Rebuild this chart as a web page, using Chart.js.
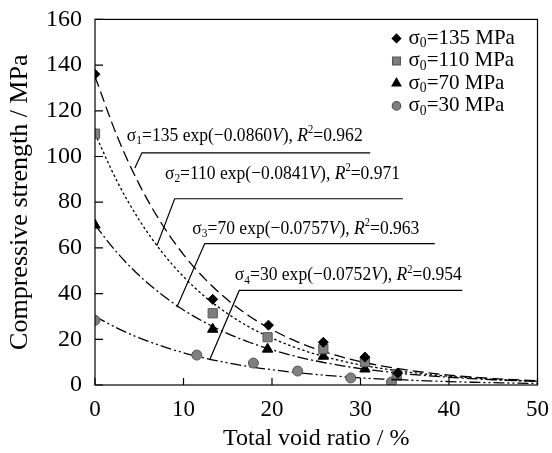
<!DOCTYPE html>
<html lang="en">

<head>
    <meta charset="UTF-8">
    <title>Compressive strength vs total void ratio</title>
    <script src="https://cdn.jsdelivr.net/npm/chart.js"></script>
    <style>
        html, body {
            margin: 0;
            padding: 0;
            background-color: #ffffff;
        }

        .chart-container {
            width: 552px;
            height: 453px;
        }
    </style>
</head>

<body>

    <div class="chart-container">
        <canvas id="strengthChart" width="552" height="453"></canvas>
    </div>

    <script>
        // measured points: total void ratio (%) and compressive strength (MPa)
        const voidRatio135 = [0, 13.3, 19.6, 25.8, 30.5, 34.2];
        const strength135 = [136, 37.5, 26.2, 18.7, 12.2, 5.2];
        const voidRatio110 = [0, 13.3, 19.5, 25.8, 30.5, 34.1];
        const strength110 = [110, 31.4, 20.9, 15.7, 10.0, 4.8];
        const voidRatio70 = [0, 13.3, 19.5, 25.8, 30.5, 34.1];
        const strength70 = [70, 24.4, 15.7, 12.6, 7.0, 3.5];
        const voidRatio30 = [0, 11.5, 17.9, 22.9, 28.9, 33.5];
        const strength30 = [28.3, 13.1, 9.6, 6.1, 3.1, 1.3];

        // fitted curves
        const curveVoid = [0, 2.5, 5, 7.5, 10, 12.5, 15, 17.5, 20, 22.5, 25, 27.5, 30, 32.5, 35, 37.5, 40, 42.5, 45, 47.5, 50];
        const fit135 = [135, 108.9, 87.8, 70.8, 57.1, 46.1, 37.2, 30.0, 24.2, 19.5, 15.7, 12.7, 10.2, 8.3, 6.7, 5.4, 4.3, 3.5, 2.8, 2.3, 1.8];
        const fit110 = [110, 89.1, 72.2, 58.5, 47.4, 38.4, 31.2, 25.2, 20.5, 16.6, 13.4, 10.9, 8.8, 7.2, 5.8, 4.7, 3.8, 3.1, 2.5, 2.0, 1.6];
        const fit70 = [70, 57.9, 47.9, 39.7, 32.8, 27.2, 22.5, 18.6, 15.4, 12.7, 10.5, 8.7, 7.2, 6.0, 4.9, 4.1, 3.4, 2.8, 2.3, 1.9, 1.6];
        const fit30 = [30, 24.9, 20.6, 17.1, 14.1, 11.7, 9.7, 8.0, 6.7, 5.5, 4.6, 3.8, 3.1, 2.6, 2.2, 1.8, 1.5, 1.2, 1.0, 0.8, 0.7];

        const legendLabels = ['135', '110', '70', '30'];
        const xTicks = [0, 10, 20, 30, 40, 50];
        const yTicks = [0, 20, 40, 60, 80, 100, 120, 140, 160];

        const FONT = "'Liberation Serif', 'Times New Roman', serif";

        function toPoints(xs, ys) {
            return xs.map((x, i) => ({ x: x, y: ys[i] }));
        }

        // equation labels: text anchor, bracket line and leader end in data units
        const annotations = [
            { idx: '1', a: '135', b: '0.0860', r2: '0.962', text: [3.6, 109], line: [5.3, 31.1, 101.6], lead: [4.5, 95] },
            { idx: '2', a: '110', b: '0.0841', r2: '0.971', text: [7.9, 92.4], line: [9.0, 34.8, 81.5], lead: [7.0, 61] },
            { idx: '3', a: '70', b: '0.0757', r2: '0.963', text: [11.0, 68.4], line: [12.4, 38.4, 61.9], lead: [9.25, 34] },
            { idx: '4', a: '30', b: '0.0752', r2: '0.954', text: [15.8, 48], line: [16.3, 41.5, 41.4], lead: [12.95, 10.9] }
        ];

        // draw a line of text made of parts (normal, italic, sub, sup)
        // squeeze < 1 narrows the glyphs like the condensed type in the figure
        function drawRich(ctx, x, y, parts, size, squeeze) {
            squeeze = squeeze || 1;
            ctx.save();
            ctx.translate(x, y);
            ctx.scale(squeeze, 1);
            ctx.textBaseline = 'middle';
            ctx.textAlign = 'left';
            let cx = 0;
            parts.forEach(p => {
                let s = size, dy = 0;
                if (p.sub) { s = size * 0.65; dy = size * 0.25; }
                if (p.sup) { s = size * 0.6; dy = -size * 0.3; }
                ctx.font = (p.italic ? 'italic ' : '') + s + 'px ' + FONT;
                ctx.fillText(p.t, cx, dy);
                cx += ctx.measureText(p.t).width;
            });
            ctx.restore();
        }

        const pointSeries = [
            { label: '135', style: 'rectRot', radius: 5, color: '#000000' },
            { label: '110', style: 'rect', radius: 6.5, color: '#7f7f7f' },
            { label: '70', style: 'triangle', radius: 6, color: '#000000' },
            { label: '30', style: 'circle', radius: 5, color: '#808080' }
        ];

        // frame, inward ticks, legend and equation labels
        const decorPlugin = {
            id: 'decor',
            afterDatasetsDraw(chart) {
                const ctx = chart.ctx;
                const area = chart.chartArea;
                const xs = chart.scales.x, ys = chart.scales.y;
                ctx.save();
                ctx.strokeStyle = '#000';
                ctx.lineWidth = 1.2;
                ctx.strokeRect(area.left, area.top, area.right - area.left, area.bottom - area.top);

                ctx.beginPath();
                xTicks.forEach(v => {
                    const px = xs.getPixelForValue(v);
                    ctx.moveTo(px, area.bottom);
                    ctx.lineTo(px, area.bottom - 7);
                });
                yTicks.forEach(v => {
                    const py = ys.getPixelForValue(v);
                    ctx.moveTo(area.left, py);
                    ctx.lineTo(area.left + 8, py);
                });
                ctx.stroke();

                // legend
                const lx = area.right - 141, ly = area.top + 19;
                pointSeries.forEach((s, i) => {
                    const y = ly + i * 22.5;
                    ctx.fillStyle = s.color;
                    ctx.strokeStyle = s.color === '#000000' ? '#000' : '#555';
                    Chart.helpers.drawPoint(ctx, { pointStyle: s.style, radius: s.radius * 0.85, borderWidth: 1, rotation: 0 }, lx, y);
                    ctx.fillStyle = '#000';
                    drawRich(ctx, lx + 12, y, [
                        { t: 'σ' }, { t: '0', sub: true }, { t: '=' + legendLabels[i] + ' MPa' }
                    ], 21);
                });

                // equations with bracket lines
                ctx.strokeStyle = '#000';
                ctx.lineWidth = 1.2;
                annotations.forEach(a => {
                    const tx = xs.getPixelForValue(a.text[0]), ty = ys.getPixelForValue(a.text[1]);
                    drawRich(ctx, tx, ty, [
                        { t: 'σ' }, { t: a.idx, sub: true },
                        { t: '=' + a.a + ' exp(\u2212' + a.b }, { t: 'V', italic: true },
                        { t: '), ' }, { t: 'R', italic: true }, { t: '2', sup: true },
                        { t: '=' + a.r2 }
                    ], 19.5, 0.9);
                    const x1 = xs.getPixelForValue(a.line[0]), x2 = xs.getPixelForValue(a.line[1]);
                    const yl = ys.getPixelForValue(a.line[2]);
                    ctx.beginPath();
                    ctx.moveTo(x2, yl);
                    ctx.lineTo(x1, yl);
                    ctx.lineTo(xs.getPixelForValue(a.lead[0]), ys.getPixelForValue(a.lead[1]));
                    ctx.stroke();
                });
                ctx.restore();
            }
        };

        function curve(data, dash) {
            return {
                type: 'line',
                data: toPoints(curveVoid, data),
                borderColor: '#000',
                borderWidth: 1.3,
                borderDash: dash,
                pointRadius: 0,
                cubicInterpolationMode: 'monotone',
                fill: false,
                order: 2
            };
        }

        function scatter(xs, ys, s) {
            return {
                type: 'scatter',
                label: s.label,
                data: toPoints(xs, ys),
                pointStyle: s.style,
                pointRadius: s.radius,
                backgroundColor: s.color,
                borderColor: s.color === '#000000' ? '#000' : '#555',
                borderWidth: 1,
                order: 1
            };
        }

        const ctx = document.getElementById('strengthChart').getContext('2d');
        new Chart(ctx, {
            data: {
                datasets: [
                    curve(fit135, [11, 5]),
                    curve(fit110, [2.5, 2.5]),
                    curve(fit70, [11, 3, 2, 3]),
                    curve(fit30, [11, 3, 2, 3, 2, 3]),
                    scatter(voidRatio135, strength135, pointSeries[0]),
                    scatter(voidRatio110, strength110, pointSeries[1]),
                    scatter(voidRatio70, strength70, pointSeries[2]),
                    scatter(voidRatio30, strength30, pointSeries[3])
                ]
            },
            options: {
                responsive: false,
                animation: false,
                layout: { padding: { left: 0, right: 12, top: 18, bottom: 0 } },
                plugins: {
                    legend: { display: false },
                    tooltip: { enabled: false }
                },
                scales: {
                    x: {
                        type: 'linear',
                        min: 0,
                        max: 50,
                        afterBuildTicks: s => { s.ticks = xTicks.map(v => ({ value: v })); },
                        afterFit: s => { s.height = 68; },
                        grid: { display: false },
                        border: { display: false },
                        ticks: { color: '#000', padding: 3, maxRotation: 0, font: { family: FONT, size: 23 } },
                        title: { display: true, text: 'Total void ratio / %', color: '#000', padding: { top: 4, bottom: 0 }, font: { family: FONT, size: 24 } }
                    },
                    y: {
                        type: 'linear',
                        min: 0,
                        max: 160,
                        afterBuildTicks: s => { s.ticks = yTicks.map(v => ({ value: v })); },
                        afterFit: s => { s.width = 95; },
                        grid: { display: false },
                        border: { display: false },
                        ticks: { color: '#000', padding: 5, font: { family: FONT, size: 24 } },
                        title: { display: true, text: 'Compressive strength / MPa', color: '#000', padding: { top: 5, bottom: 2 }, font: { family: FONT, size: 26 } }
                    }
                }
            },
            plugins: [decorPlugin]
        });
    </script>

</body>

</html>
